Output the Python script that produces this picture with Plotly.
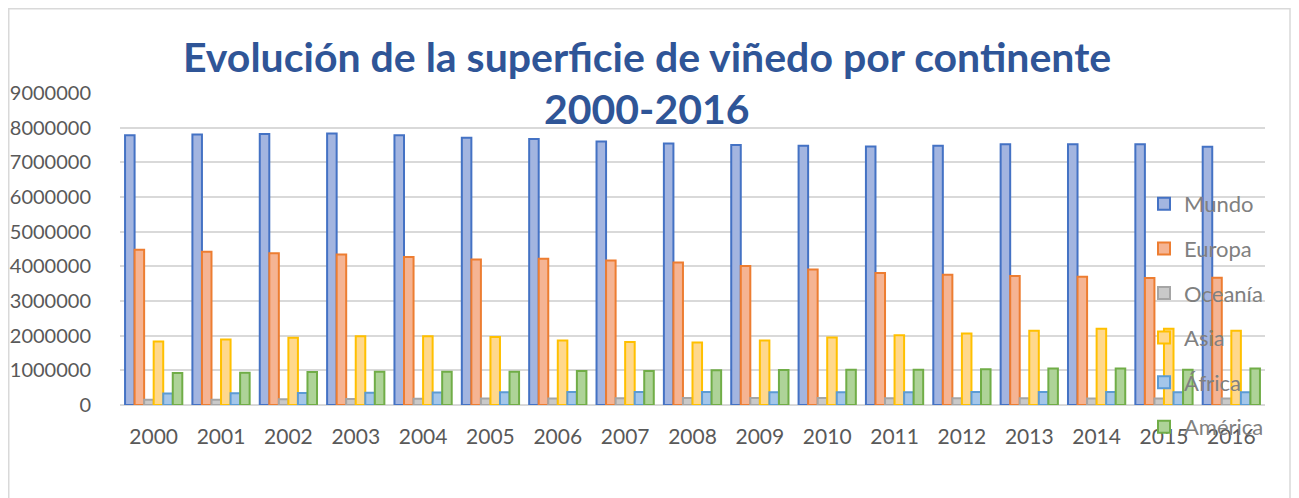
import plotly.graph_objects as go

years = [str(y) for y in range(2000, 2017)]
mundo = [7780000, 7800000, 7820000, 7830000, 7780000, 7710000, 7670000, 7600000, 7540000,
         7500000, 7480000, 7460000, 7480000, 7520000, 7520000, 7520000, 7450000]
europa = [4480000, 4420000, 4380000, 4340000, 4270000, 4200000, 4220000, 4170000, 4110000,
          4010000, 3910000, 3810000, 3760000, 3720000, 3700000, 3660000, 3670000]
oceania = [150000, 155000, 165000, 170000, 180000, 185000, 190000, 195000, 200000,
           200000, 200000, 195000, 195000, 195000, 190000, 190000, 190000]
asia = [1830000, 1890000, 1940000, 1980000, 1980000, 1960000, 1860000, 1820000, 1800000,
        1860000, 1950000, 2010000, 2060000, 2140000, 2200000, 2200000, 2140000]
africa = [330000, 340000, 345000, 350000, 360000, 370000, 375000, 375000, 375000,
          370000, 370000, 370000, 375000, 375000, 375000, 370000, 370000]
america = [920000, 930000, 950000, 960000, 960000, 960000, 980000, 980000, 1000000,
           1010000, 1020000, 1020000, 1030000, 1050000, 1050000, 1020000, 1050000]

series = [
    ("Mundo", mundo, "#A3B5E0", "#4472C4"),
    ("Europa", europa, "#F5B493", "#ED7D31"),
    ("Oceanía", oceania, "#C9C9C9", "#A5A5A5"),
    ("Asia", asia, "#FFD88C", "#FFC000"),
    ("África", africa, "#A4C6EA", "#5B9BD5"),
    ("América", america, "#AED398", "#70AD47"),
]

W, H = 1299, 498
L, R, T, B = 112, 42, 85, 101
PW, PH = W - L - R, H - T - B


def px(xf):
    return (xf - L) / PW


def py(yf):
    return (H - B - yf) / PH


fig = go.Figure()
for name, vals, fill, line in series:
    fig.add_trace(go.Bar(
        x=years, y=vals, name=name, legendgroup=name,
        marker=dict(color=fill, line=dict(color=line, width=2)),
    ))

fig.update_layout(
    width=W, height=H,
    barmode="group", bargap=0.15, bargroupgap=0,
    plot_bgcolor="white", paper_bgcolor="white",
    margin=dict(l=L, r=R, t=T, b=B, autoexpand=False),
    font=dict(family="Lato, Carlito, sans-serif", color="#595959"),
    xaxis=dict(tickfont=dict(size=21, color="#595959"), showgrid=False,
               ticks="", ticklabelstandoff=17, automargin=False),
    yaxis=dict(range=[0, 9000000], dtick=1000000, tickformat="d",
               tickfont=dict(size=20, color="#595959"),
               gridcolor="#D9D9D9", gridwidth=1.5,
               zeroline=True, zerolinecolor="#D9D9D9", zerolinewidth=1.5,
               ticklabelstandoff=28, automargin=False),
    legend=dict(x=px(1136), y=py(175), xanchor="left", yanchor="top",
                bgcolor="rgba(0,0,0,0)", font=dict(size=22, color="#808080"),
                traceorder="grouped", tracegroupgap=13, itemwidth=30),
    showlegend=True,
)

# outer chart frame
fig.add_shape(type="rect", xref="paper", yref="paper",
              x0=px(0.75), x1=px(1282), y0=py(520), y1=py(0.75),
              line=dict(color="#D9D9D9", width=1.5), layer="below")

fig.add_annotation(text="<b>Evolución de la superficie de viñedo por continente</b>",
                   xref="paper", yref="paper", x=px(639), y=py(48.5),
                   xanchor="center", yanchor="middle", showarrow=False,
                   font=dict(size=41, color="#2F5597", family="Lato, sans-serif"))
fig.add_annotation(text="<b>2000-2016</b>",
                   xref="paper", yref="paper", x=px(639), y=py(100),
                   xanchor="center", yanchor="middle", showarrow=False,
                   font=dict(size=41, color="#2F5597", family="Lato, sans-serif"))

fig.write_html("out.html")
